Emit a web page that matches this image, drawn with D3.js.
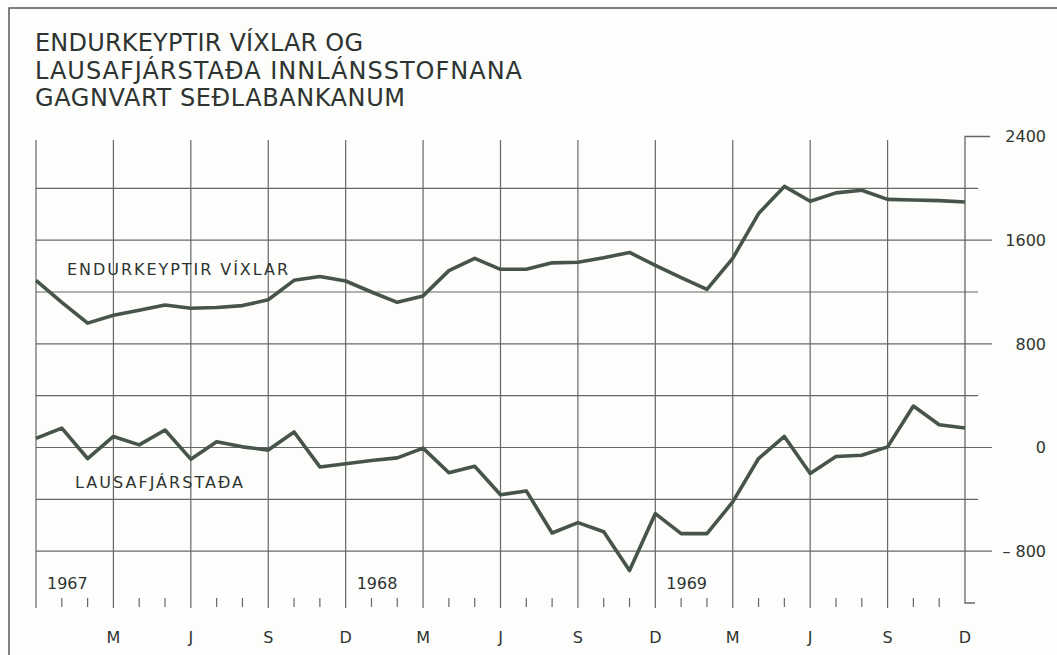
<!DOCTYPE html>
<html lang="is">
<head>
    <meta charset="UTF-8">
    <title>Endurkeyptir víxlar og lausafjárstaða</title>
    <script type="text/javascript" src="https://cdn.jsdelivr.net/npm/d3@7"></script>
    <style type="text/css">
        body { margin: 0; background: #fdfdfb; }
        text { font-family: "DejaVu Sans", sans-serif; fill: #2e3431; }
    </style>
</head>
<body>
<script type="text/javascript">

    //Width and height
    var w = 1057;
    var h = 655;

    var titleLines = ["ENDURKEYPTIR VÍXLAR OG",
        "LAUSAFJÁRSTAÐA INNLÁNSSTOFNANA",
        "GAGNVART SEÐLABANKANUM"];

    // month ends, Dec 1966 .. Dec 1969
    var months = d3.timeMonth.range(new Date(1966, 11, 1), new Date(1970, 0, 1));

    // Endurkeyptir víxlar (millj. kr.)
    var vixlar = [1290, 1120, 960, 1020, 1060, 1100, 1075, 1080, 1095, 1140, 1290, 1320,
        1285, 1200, 1120, 1170, 1365, 1460, 1375, 1375, 1425, 1430, 1465, 1505,
        1405, 1310, 1220, 1460, 1805, 2015, 1900, 1965, 1985, 1915, 1910, 1905, 1895];

    // Lausafjárstaða (millj. kr.)
    var lausafe = [70, 150, -85, 85, 20, 135, -90, 45, 5, -20, 120, -150,
        -125, -100, -80, -5, -195, -145, -365, -335, -660, -580, -650, -950,
        -510, -665, -665, -420, -85, 85, -200, -70, -60, 5, 320, 175, 150];

    var quarterLabels = ["M", "J", "S", "D", "M", "J", "S", "D", "M", "J", "S", "D"];
    var yearLabels = ["1967", "1968", "1969"];
    var yGrid = [2000, 1600, 1200, 800, 400, 0, -400, -800];
    var yLabels = [2400, 1600, 800, 0, -800];

    var svg = d3.select("body")
        .append("svg")
        .attr("width", w)
        .attr("height", h);

    // scales
    var x = d3.scaleLinear()
        .domain([0, months.length - 1])
        .range([36, 965]);
    var y = d3.scaleLinear()
        .domain([-1200, 2400])
        .range([603, 136.5]);

    var gridColor = "#646966";

    // outer frame (top and left edge of the page)
    svg.append("path")
        .attr("d", "M9,655 V8 H1057")
        .attr("fill", "none")
        .attr("stroke", "#555")
        .attr("stroke-width", 1.5);

    // title
    svg.selectAll("text.title")
        .data(titleLines)
        .enter()
        .append("text")
        .attr("class", "title")
        .attr("x", 35)
        .attr("y", function(d, i) { return 51 + i * 27.5; })
        .attr("font-size", "24px")
        .attr("textLength", function(d, i) { return [328, 487, 370][i]; })
        .attr("lengthAdjust", "spacing")
        .text(function(d) { return d; });

    // horizontal grid lines, labelled ones run a bit further right
    svg.selectAll("line.hgrid")
        .data(yGrid)
        .enter()
        .append("line")
        .attr("class", "hgrid")
        .attr("x1", x(0))
        .attr("x2", function(d) { return yLabels.indexOf(d) >= 0 ? 992 : 978; })
        .attr("y1", function(d) { return y(d); })
        .attr("y2", function(d) { return y(d); })
        .attr("stroke", gridColor)
        .attr("stroke-width", 1.2);

    // vertical grid lines every quarter
    var quarterIdx = d3.range(0, months.length - 1, 3);
    svg.selectAll("line.vgrid")
        .data(quarterIdx)
        .enter()
        .append("line")
        .attr("class", "vgrid")
        .attr("x1", function(d) { return x(d); })
        .attr("x2", function(d) { return x(d); })
        .attr("y1", 140)
        .attr("y2", 608)
        .attr("stroke", gridColor)
        .attr("stroke-width", 1.2);

    // right axis
    var xr = x(months.length - 1);
    svg.append("path")
        .attr("d", "M" + 990 + "," + y(2400) + " H" + xr + " V" + y(-1200) + " H" + (xr + 10))
        .attr("fill", "none")
        .attr("stroke", gridColor)
        .attr("stroke-width", 1.3);

    // small month ticks
    var monthIdx = d3.range(1, months.length).filter(function(i) { return i % 3 !== 0; });
    svg.selectAll("line.mtick")
        .data(monthIdx)
        .enter()
        .append("line")
        .attr("class", "mtick")
        .attr("x1", function(d) { return x(d); })
        .attr("x2", function(d) { return x(d); })
        .attr("y1", 598)
        .attr("y2", 607)
        .attr("stroke", gridColor)
        .attr("stroke-width", 1.2);

    // y labels on the right
    svg.selectAll("text.ylab")
        .data(yLabels)
        .enter()
        .append("text")
        .attr("class", "ylab")
        .attr("x", 1046)
        .attr("y", function(d) { return y(d); })
        .attr("dy", "0.36em")
        .attr("text-anchor", "end")
        .attr("font-size", "16px")
        .text(function(d) { return d < 0 ? "\u2013 " + (-d) : d; });

    // quarter letters under the axis
    svg.selectAll("text.qlab")
        .data(quarterLabels)
        .enter()
        .append("text")
        .attr("class", "qlab")
        .attr("x", function(d, i) { return x((i + 1) * 3); })
        .attr("y", 643)
        .attr("text-anchor", "middle")
        .attr("font-size", "16px")
        .text(function(d) { return d; });

    // years
    svg.selectAll("text.year")
        .data(yearLabels)
        .enter()
        .append("text")
        .attr("class", "year")
        .attr("x", function(d, i) { return x(i * 12) + 11; })
        .attr("y", 589)
        .attr("font-size", "16px")
        .text(function(d) { return d; });

    // the two series
    var line = d3.line()
        .x(function(d, i) { return x(i); })
        .y(function(d) { return y(d); });

    [vixlar, lausafe].forEach(function(s) {
        svg.append("path")
            .datum(s)
            .attr("d", line)
            .attr("fill", "none")
            .attr("stroke", "#47544c")
            .attr("stroke-width", 3.6)
            .attr("stroke-linejoin", "round");
    });

    // series names
    svg.append("text")
        .attr("x", 67)
        .attr("y", 275)
        .attr("font-size", "16px")
        .attr("textLength", 221)
        .attr("lengthAdjust", "spacing")
        .text("ENDURKEYPTIR VÍXLAR");
    svg.append("text")
        .attr("x", 75)
        .attr("y", 488)
        .attr("font-size", "16px")
        .attr("textLength", 168)
        .attr("lengthAdjust", "spacing")
        .text("LAUSAFJÁRSTAÐA");
</script>
</body>
</html>
